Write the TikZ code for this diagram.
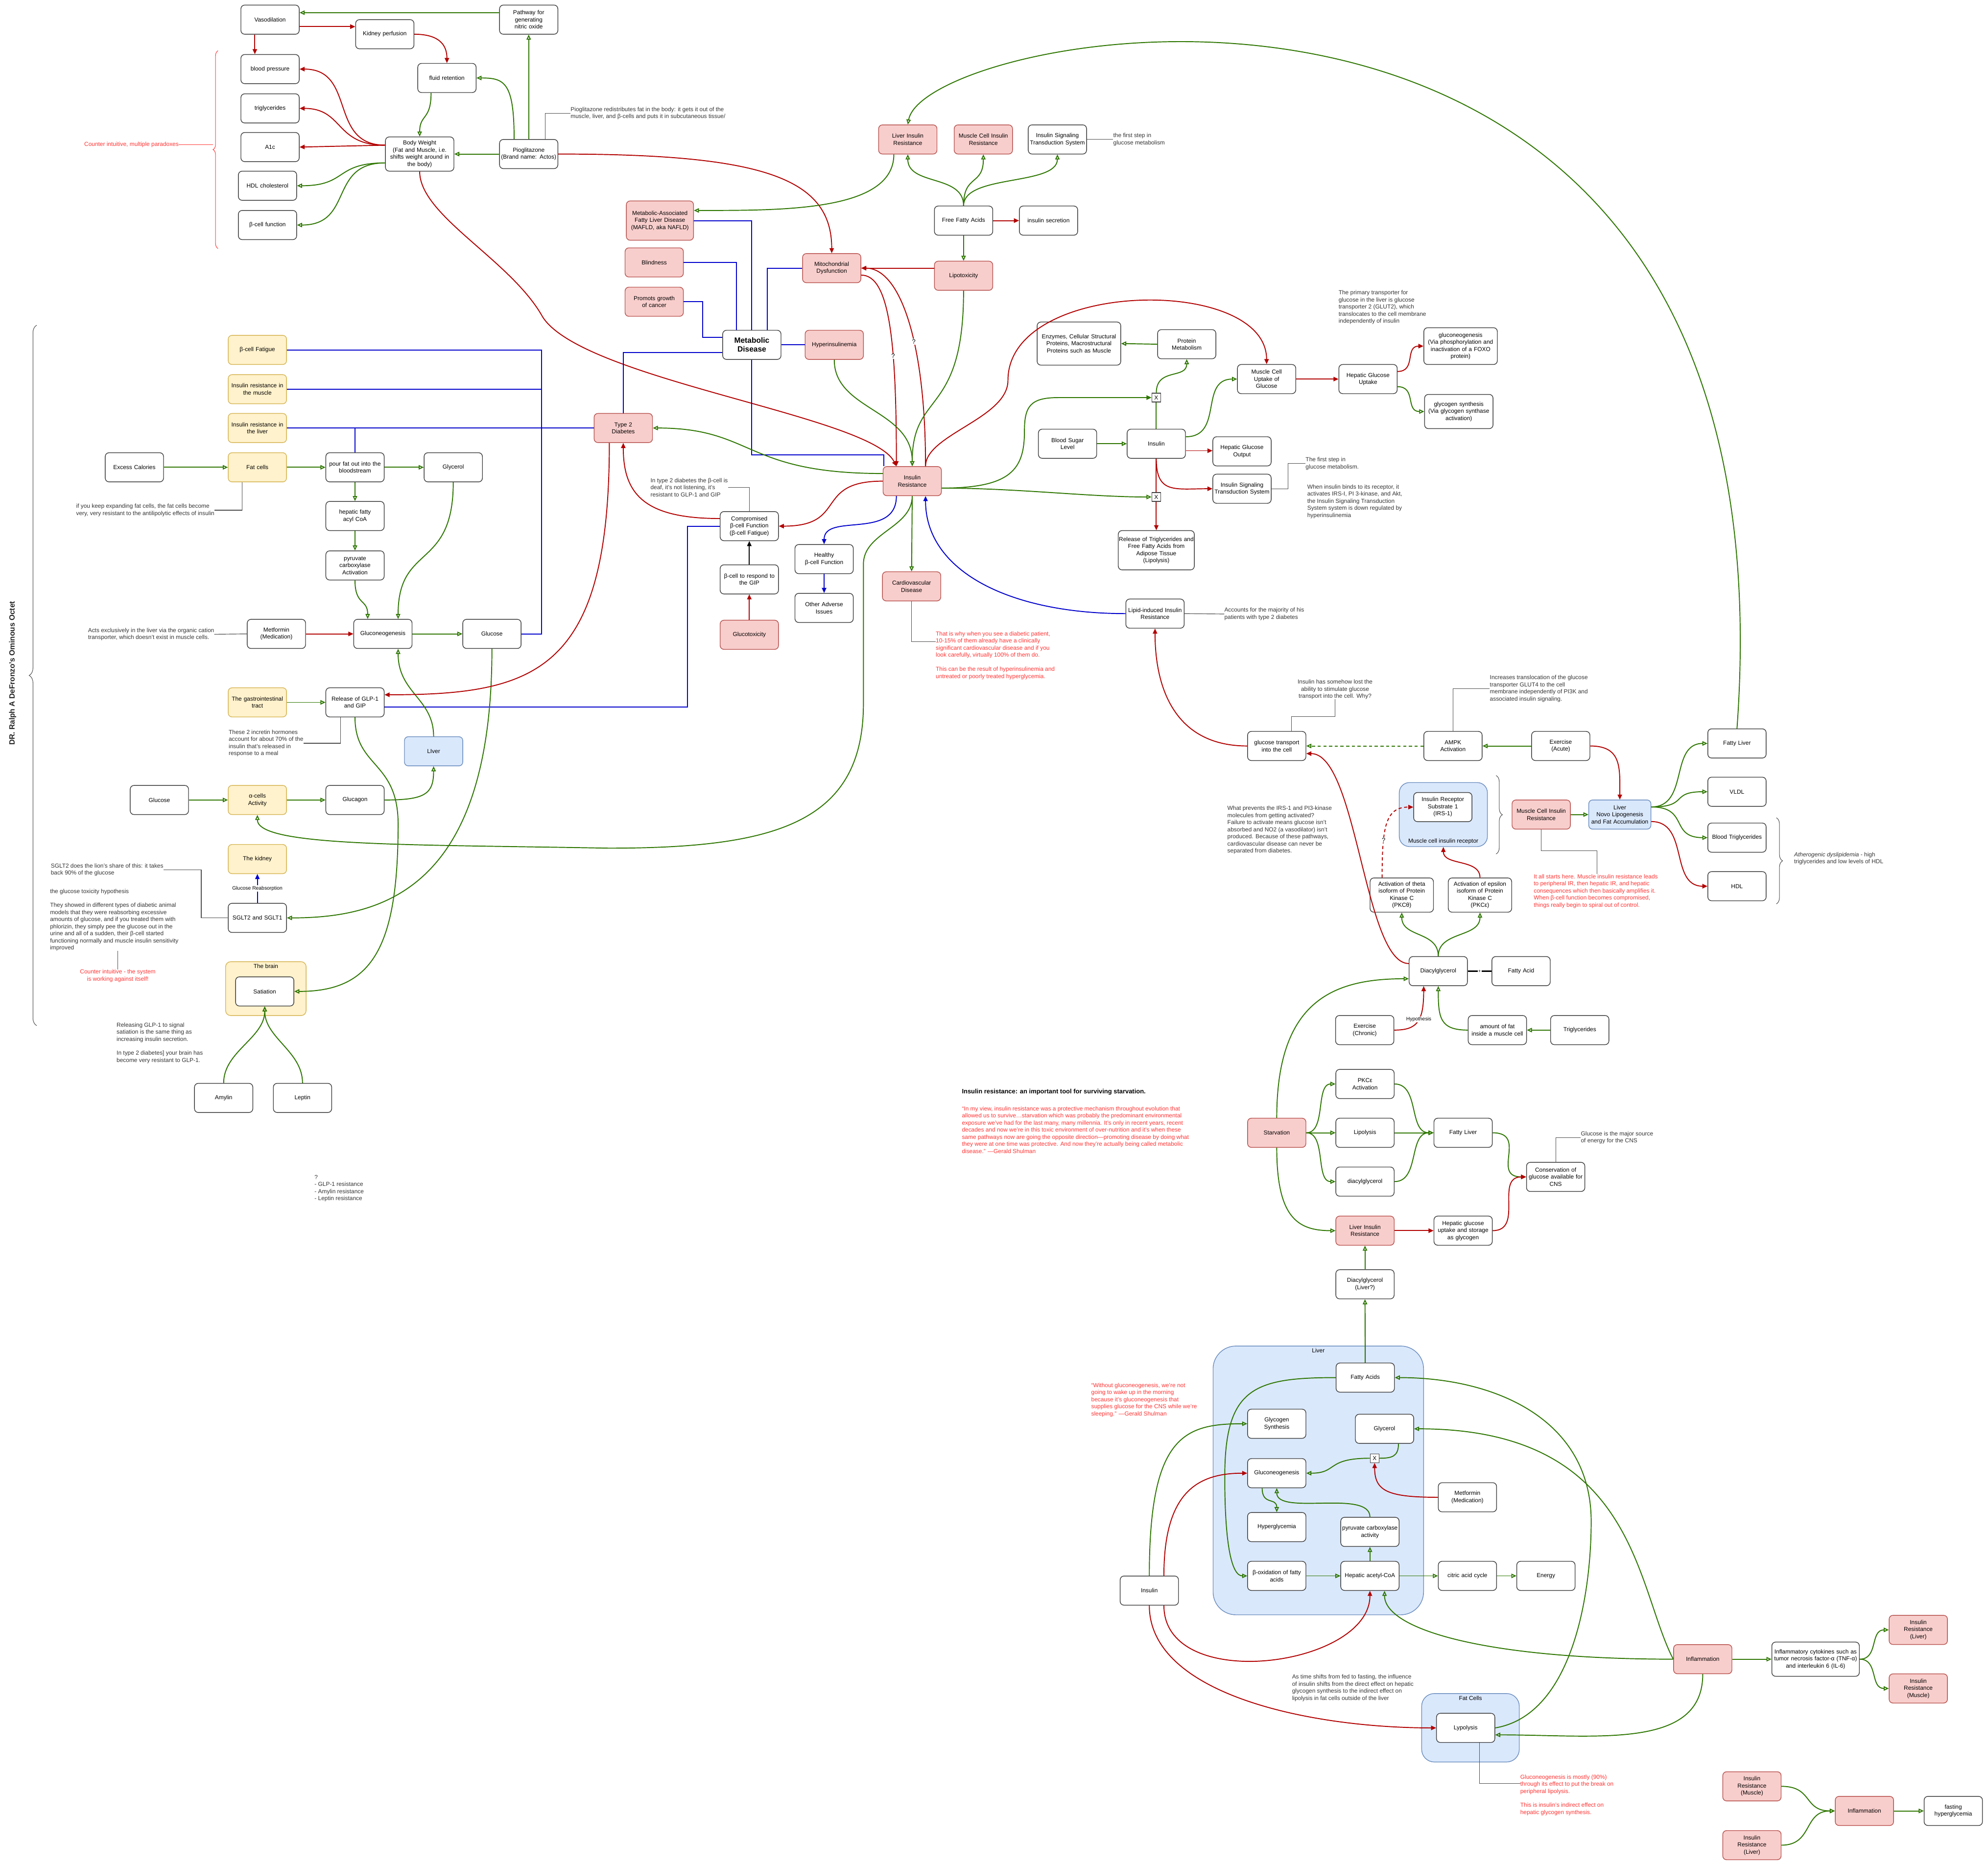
\documentclass[tikz,border=0pt]{standalone}
\usepackage{fontspec}
\setmainfont{Liberation Sans}
\usetikzlibrary{arrows.meta,decorations.pathreplacing}
\definecolor{pinkf}{HTML}{F8CECC}
\definecolor{pinkd}{HTML}{B85450}
\definecolor{yelf}{HTML}{FFF2CC}
\definecolor{yeld}{HTML}{D6B656}
\definecolor{bluf}{HTML}{DAE8FC}
\definecolor{blud}{HTML}{6C8EBF}
\definecolor{grn}{HTML}{2D7600}
\definecolor{redl}{HTML}{B20000}
\definecolor{blul}{HTML}{0000CC}
\definecolor{rtxt}{HTML}{FF3333}
\tikzset{
  box/.style={draw=black!75, line width=1.1pt, rounded corners=6pt, fill=white, align=center, minimum width=92pt, minimum height=46pt, text width=90pt, inner sep=1pt},
  pinkbox/.style={box, fill=pinkf, draw=pinkd},
  yelbox/.style={box, fill=yelf, draw=yeld},
  blubox/.style={box, fill=bluf, draw=blud},
  clus/.style={draw=blud, fill=bluf, line width=1.1pt, inner sep=0pt},
  xbox/.style={draw=black!75, line width=1pt, fill=white, minimum size=14pt, inner sep=0pt},
  note/.style={align=left, text=black!80, inner sep=0pt},
  rednote/.style={note, text=rtxt},
  lead/.style={draw=black!70, line width=0.9pt},
  gline/.style={draw=grn, line width=1.5pt, -{Triangle[open, length=8pt, width=7pt]}},
  gfill/.style={draw=grn, line width=1.5pt, -{Triangle[length=8pt, width=7pt]}},
  gplain/.style={draw=grn, line width=1.5pt},
  rline/.style={draw=redl, line width=1.5pt, -{Triangle[length=8pt, width=7pt]}},
  rplain/.style={draw=redl, line width=1.5pt},
  bline/.style={draw=blul, line width=1.5pt},
  barrow/.style={bline, -{Triangle[length=8pt, width=7pt]}},
  qmark/.style={fill=white, inner sep=1pt, font=\fontsize{10}{12}\selectfont},
  smalllab/.style={fill=white, inner sep=1pt, font=\fontsize{8}{9}\selectfont},
  bracedec/.style={decorate, decoration={brace, amplitude=#1}, line width=0.8pt}
}
\begin{document}
\begin{tikzpicture}[x=2pt, y=-2pt, font=\fontsize{9.2}{11.2}\selectfont]
\fill[white] (0,0) rectangle (1568,1471);
\useasboundingbox (0,0) rectangle (1568,1471);

\node[yelbox, rounded corners=8pt, minimum width=127pt, minimum height=85pt, text width=125pt] (brainc) at (209.7,779.8) {};
\node[anchor=north, inner sep=0pt] at ([yshift=-4pt]brainc.north) {The brain};
\node[clus, rounded corners=16pt, minimum width=139pt, minimum height=101pt] (mcrec) at (1138.4,642.5) {};
\node[anchor=south, inner sep=0pt] at ([yshift=4pt]mcrec.south) {Muscle cell insulin receptor};
\node[clus, rounded corners=36pt, minimum width=332pt, minimum height=424pt] (livc) at (1039.8,1167.7) {};
\node[anchor=north, inner sep=0pt] at ([yshift=-4pt]livc.north) {Liver};
\node[clus, rounded corners=20pt, minimum width=154pt, minimum height=108pt] (fatcl) at (1159.8,1362.8) {};
\node[anchor=north, inner sep=0pt] at ([yshift=-4pt]fatcl.north) {Fat Cells};

\node[box] (vaso) at (213,15.5) {Vasodilation};
\node[box] (kidp) at (303.5,27) {Kidney perfusion};
\node[box] (nox) at (417,15.5) {Pathway for\\generating\\nitric oxide};
\node[box] (bp) at (213,54.5) {blood pressure};
\node[box] (trig) at (213,85.5) {triglycerides};
\node[box] (aonec) at (213,116) {A1c};
\node[box] (hdlc) at (211,146.5) {HDL cholesterol};
\node[box] (bfun) at (211,177.5) {β-cell function};
\node[box] (fluid) at (352.5,61.5) {fluid retention};
\node[box, minimum width=108pt, text width=106pt, minimum height=54pt] (bw) at (331,121.5) {Body Weight\\(Fat and Muscle, i.e.\\shifts weight around in\\the body)};
\node[box] (pio) at (417,121.5) {Pioglitazone\\(Brand name: Actos)};
\node[note, anchor=west] (pionote) at (450,89.3) {Pioglitazone redistributes fat in the body: it gets it out of the\\muscle, liver, and β-cells and puts it in subcutaneous tissue/};
\node[rednote, anchor=east] (ctr) at (141,114) {Counter intuitive, multiple paradoxes};

\node[pinkbox] (lir) at (716,110) {Liver Insulin\\Resistance};
\node[pinkbox] (mcir) at (775.6,110) {Muscle Cell Insulin\\Resistance};
\node[box] (ists) at (834,110) {Insulin Signaling\\Transduction System};
\node[note, anchor=west] (istsnote) at (878,110) {the first step in\\glucose metabolism};
\node[box] (ffa) at (760,174) {Free Fatty Acids};
\node[box] (insec) at (827,174) {insulin secretion};
\node[pinkbox] (lipotox) at (760,217.5) {Lipotoxicity};
\node[pinkbox] (mito) at (656,211.5) {Mitochondrial\\Dysfunction};
\node[pinkbox, minimum width=106pt, text width=104pt, minimum height=62pt] (mafld) at (520.5,174) {Metabolic-Associated\\Fatty Liver Disease\\(MAFLD, aka NAFLD)};
\node[pinkbox] (blind) at (516,207) {Blindness};
\node[pinkbox] (cancer) at (516,238) {Promots growth\\of cancer};
\node[box, font=\fontsize{12}{14}\selectfont\bfseries] (md) at (593,272) {Metabolic\\Disease};
\node[pinkbox] (hyper) at (658,272) {Hyperinsulinemia};
\node[box, minimum width=132pt, text width=130pt, minimum height=68pt] (enz) at (851,271) {Enzymes, Cellular Structural\\Proteins, Macrostructural\\Proteins such as Muscle};
\node[box] (protm) at (936,271.5) {Protein\\Metabolism};

\node[yelbox] (bfat) at (203,276) {β-cell Fatigue};
\node[yelbox] (irmus) at (203,307) {Insulin resistance in\\the muscle};
\node[yelbox] (irliv) at (203,337.6) {Insulin resistance in\\the liver};
\node[yelbox] (fatc) at (203,368.6) {Fat cells};
\node[box] (xcal) at (106,368.6) {Excess Calories};
\node[box] (pour) at (280,368.6) {pour fat out into the\\bloodstream};
\node[box] (glyc) at (357.5,368.6) {Glycerol};
\node[box] (hfac) at (280,407) {hepatic fatty\\acyl CoA};
\node[box] (pyr) at (280,446) {pyruvate\\carboxylase\\Activation};
\node[box] (gng) at (302,500) {Gluconeogenesis};
\node[box] (glc) at (388,500) {Glucose};
\node[box] (met) at (218,500) {Metformin\\(Medication)};
\node[note, anchor=east] (metnote) at (169,500.3) {Acts exclusively in the liver via the organic cation\\transporter, which doesn't exist in muscle cells.};
\node[note, anchor=west] (fatnote) at (60,402.4) {if you keep expanding fat cells, the fat cells become\\very, very resistant to the antilipolytic effects of insulin};
\node[rotate=90, font=\fontsize{12}{14}\selectfont\bfseries, text=black!85] (octet) at (10,531) {DR. Ralph A DeFronzo's Ominous Octet};

\node[pinkbox] (t2d) at (491.6,337.6) {Type 2\\Diabetes};
\node[pinkbox] (ir) at (719.5,379.5) {Insulin\\Resistance};
\node[box] (comp) at (591,415) {Compromised\\β-cell Function\\(β-cell Fatigue)};
\node[note, anchor=north west] (compnote) at (513,377) {In type 2 diabetes the β-cell is\\deaf, it's not listening, it's\\resistant to GLP-1 and GIP};
\node[box] (gip) at (591,457) {β-cell to respond to\\the GIP};
\node[pinkbox] (gtox) at (591,500.7) {Glucotoxicity};
\node[box] (healthy) at (650,441) {Healthy\\β-cell Function};
\node[box] (adverse) at (650,479.5) {Other Adverse\\Issues};
\node[pinkbox] (cvd) at (719,462.5) {Cardiovascular\\Disease};
\node[rednote, anchor=north west] (cvdnote) at (738,498) {That is why when you see a diabetic patient,\\10-15\% of them already have a clinically\\significant cardiovascular disease and if you\\look carefully, virtually 100\% of them do.\\[11pt]This can be the result of hyperinsulinemia and\\untreated or poorly treated hyperglycemia.};
\node[box] (bsl) at (842,350) {Blood Sugar\\Level};
\node[box] (ins) at (912,350) {Insulin};
\node[xbox] (xa) at (912,313.6) {X};
\node[xbox] (xb) at (912,392) {X};
\node[box] (hgo) at (979.6,356) {Hepatic Glucose\\Output};
\node[box] (ists2) at (979.6,385.5) {Insulin Signaling\\Transduction System};
\node[box, minimum width=120pt, text width=118pt, minimum height=62pt] (relTG) at (912,434) {Release of Triglycerides and\\Free Fatty Acids from\\Adipose Tissue\\(Lipolysis)};
\node[box] (mcug) at (999,299) {Muscle Cell\\Uptake of\\Glucose};
\node[box] (hgu) at (1079,299) {Hepatic Glucose\\Uptake};
\node[box, minimum width=116pt, text width=114pt, minimum height=58pt] (gngfoxo) at (1152,273) {gluconeogenesis\\(Via phosphorylation and\\inactivation of a FOXO\\protein)};
\node[box, minimum width=108pt, text width=106pt, minimum height=54pt] (glysyn) at (1150.6,324.6) {glycogen synthesis\\(Via glycogen synthase\\activation)};
\node[note, anchor=north west] (glut2note) at (1055.7,229) {The primary transporter for\\glucose in the liver is glucose\\transporter 2 (GLUT2), which\\translocates to the cell membrane\\independently of insulin};
\node[note, anchor=west] (step2note) at (1029.7,365.7) {The first step in\\glucose metabolism.};
\node[note, anchor=north west] (whennote) at (1031,382) {When insulin binds to its receptor, it\\activates IRS-I, PI 3-kinase, and Akt,\\the Insulin Signaling Transduction\\System system is down regulated by\\hyperinsulinemia};
\node[box] (lipir) at (911,484) {Lipid-induced Insulin\\Resistance};
\node[note, anchor=west] (accnote) at (965.6,484.3) {Accounts for the majority of his\\patients with type 2 diabetes};

\node[yelbox] (git) at (203,554) {The gastrointestinal\\tract};
\node[box] (glp) at (280,554) {Release of GLP-1\\and GIP};
\node[note, anchor=north west] (incnote) at (180.3,575.6) {These 2 incretin hormones\\account for about 70\% of the\\insulin that's released in\\response to a meal};
\node[blubox] (liver) at (342,592.6) {LIver};
\node[box] (glc2) at (125.7,631) {Glucose};
\node[yelbox] (alpha) at (203,631) {α-cells\\Activity};
\node[box] (gcg) at (280,631) {Glucagon};
\node[yelbox] (kid) at (203,677.6) {The kidney};
\node[box] (sglt) at (203,724) {SGLT2 and SGLT1};
\node[note, anchor=north west] (sgltnote) at (40,681) {SGLT2 does the lion's share of this: it takes\\back 90\% of the glucose};
\node[note, anchor=north west] (toxnote) at (39.4,701) {the glucose toxicity hypothesis\\[11pt]They showed in different types of diabetic animal\\models that they were reabsorbing excessive\\amounts of glucose, and if you treated them with\\phlorizin, they simply pee the glucose out in the\\urine and all of a sudden, their β-cell started\\functioning normally and muscle insulin sensitivity\\improved};
\node[rednote, align=center] (counter) at (92.9,769.6) {Counter intuitive - the system\\is working against itself!};
\node[box] (sat) at (208.8,782) {Satiation};
\node[box] (amy) at (176.4,866) {Amylin};
\node[box] (lep) at (238.6,866) {Leptin};
\node[note, anchor=north west] (glpnote) at (91.9,806.5) {Releasing GLP-1 to signal\\satiation is the same thing as\\increasing insulin secretion.\\[11pt]In type 2 diabetes] your brain has\\become very resistant to GLP-1.};
\node[note, anchor=north west] (qnote) at (248,926.7) {?\\- GLP-1 resistance\\- Amylin resistance\\- Leptin resistance};

\node[box] (gtc) at (1007,588.4) {glucose transport\\into the cell};
\node[note, align=center] (gtcnote) at (1053,543.8) {Insulin has somehow lost the\\ability to stimulate glucose\\transport into the cell. Why?};
\node[box] (ampk) at (1146,588.4) {AMPK\\Activation};
\node[box] (exa) at (1231,588.4) {Exercise\\(Acute)};
\node[note, anchor=north west] (ampknote) at (1175,532.6) {Increases translocation of the glucose\\transporter GLUT4 to the cell\\membrane independently of PI3K and\\associated insulin signaling.};
\node[blubox, minimum width=96pt, text width=96pt] (dnl) at (1277.6,642.5) {Liver\\Novo Lipogenesis\\and Fat Accumulation};
\node[pinkbox] (mcir2) at (1215.6,642.5) {Muscle Cell Insulin\\Resistance};
\node[rednote, anchor=north west] (startnote) at (1209.6,689.5) {It all starts here. Muscle insulin resistance leads\\to peripheral IR, then hepatic IR, and hepatic\\consequences which then basically amplifies it.\\When β-cell function becomes compromised,\\things really begin to spiral out of control.};
\node[box] (irs) at (1138,636.6) {Insulin Receptor\\Substrate 1\\(IRS-1)};
\node[note, anchor=north west] (prevnote) at (968,635.7) {What prevents the IRS-1 and PI3-kinase\\molecules from getting activated?\\Failure to activate means glucose isn't\\absorbed and NO2 (a vasodilator) isn't\\produced. Because of these pathways,\\cardiovascular disease can never be\\separated from diabetes.};
\node[box, minimum width=100pt, text width=98pt, minimum height=54pt] (pkct) at (1105.6,706) {Activation of theta\\isoform of Protein\\Kinase C\\(PKCθ)};
\node[box, minimum width=100pt, text width=98pt, minimum height=54pt] (pkce) at (1167.3,706) {Activation of epsilon\\isoform of Protein\\Kinase C\\(PKCε)};
\node[box] (dag) at (1134.4,766) {Diacylglycerol};
\node[box] (fa) at (1199.7,766) {Fatty Acid};
\node[box] (exc) at (1076.4,812.5) {Exercise\\(Chronic)};
\node[box] (amf) at (1181,812.5) {amount of fat\\inside a muscle cell};
\node[box] (tg) at (1246,812.5) {Triglycerides};
\node[box] (fl) at (1370,586.4) {Fatty Liver};
\node[box] (vldl) at (1370,624.5) {VLDL};
\node[box] (btg) at (1370,660.7) {Blood Triglycerides};
\node[box] (hdl) at (1370,699) {HDL};
\node[note, anchor=west] (athnote) at (1415,677.2) {\textit{Atherogenic dyslipidemia} - high\\triglycerides and low levels of HDL};

\node[anchor=west, inner sep=0pt, font=\fontsize{10}{12}\selectfont\bfseries] (title) at (758.6,861.4) {Insulin resistance: an important tool for surviving starvation.};
\node[rednote, anchor=north west] (quote) at (758.6,872.5) {“In my view, insulin resistance was a protective mechanism throughout evolution that\\allowed us to survive…starvation which was probably the predominant environmental\\exposure we've had for the last many, many millennia. It's only in recent years, recent\\decades and now we're in this toxic environment of over-nutrition and it's when these\\same pathways now are going the opposite direction—promoting disease by doing what\\they were at one time was protective. And now they're actually being called metabolic\\disease.” —Gerald Shulman};
\node[pinkbox] (starv) at (1007,893.5) {Starvation};
\node[box] (pkca) at (1076.6,855) {PKCε\\Activation};
\node[box] (lipo) at (1076.6,893.5) {Lipolysis};
\node[box] (dag2) at (1076.6,932) {diacylglycerol};
\node[box] (fl2) at (1154,893.5) {Fatty Liver};
\node[box] (cons) at (1227,928.3) {Conservation of\\glucose available for\\CNS};
\node[note, anchor=west] (cnsnote) at (1246.8,897.4) {Glucose is the major source\\of energy for the CNS};
\node[pinkbox] (lir2) at (1076.6,970.7) {Liver Insulin\\Resistance};
\node[box] (hgus) at (1154,970.7) {Hepatic glucose\\uptake and storage\\as glycogen};
\node[box] (dagl) at (1076.6,1013) {Diacylglycerol\\(Liver?)};

\node[box] (fas) at (1076.8,1086.6) {Fatty Acids};
\node[box] (gsyn) at (1007,1123) {Glycogen\\Synthesis};
\node[box] (glyc2) at (1092,1127) {Glycerol};
\node[box] (gng2) at (1007,1162) {Gluconeogenesis};
\node[box] (hypg) at (1007,1204.5) {Hyperglycemia};
\node[box] (pyr2) at (1080.5,1208.3) {pyruvate carboxylase\\activity};
\node[box] (boxid) at (1007,1243) {β-oxidation of fatty\\acids};
\node[box] (acoa) at (1080.5,1243) {Hepatic acetyl-CoA};
\node[box] (tca) at (1157.4,1243) {citric acid cycle};
\node[box] (energy) at (1219.3,1243) {Energy};
\node[box] (met2) at (1157.4,1181) {Metformin\\(Medication)};
\node[xbox] (xc) at (1084.2,1150.2) {X};
\node[box] (ins2) at (906.5,1254.6) {Insulin};
\node[rednote, anchor=north west] (gngquote) at (860.6,1090.7) {“Without gluconeogenesis, we're not\\going to wake up in the morning\\because it's gluconeogenesis that\\supplies glucose for the CNS while we're\\sleeping.” —Gerald Shulman};
\node[note, anchor=north west] (fastnote) at (1019,1320.7) {As time shifts from fed to fasting, the influence\\of insulin shifts from the direct effect on hepatic\\glycogen synthesis to the indirect effect on\\lipolysis in fat cells outside of the liver};
\node[box] (lypo) at (1156,1362.9) {Lypolysis};
\node[rednote, anchor=north west] (gngnote) at (1199,1399.7) {Gluconeogenesis is mostly (90\%)\\through its effect to put the break on\\peripheral lipolysis.\\[11pt]This is insulin's indirect effect on\\hepatic glycogen synthesis.};
\node[pinkbox] (infl) at (1343,1308.7) {Inflammation};
\node[box, minimum width=138pt, text width=136pt, minimum height=54pt] (cyto) at (1432,1308.7) {Inflammatory cytokines such as\\tumor necrosis factor-α (TNF-α)\\and interleukin 6 (IL-6)};
\node[pinkbox] (irl) at (1513,1285.6) {Insulin\\Resistance\\(Liver)};
\node[pinkbox] (irm) at (1513,1331.8) {Insulin\\Resistance\\(Muscle)};
\node[pinkbox] (irm2) at (1381.8,1409) {Insulin\\Resistance\\(Muscle)};
\node[pinkbox] (irl2) at (1381.8,1455.4) {Insulin\\Resistance\\(Liver)};
\node[pinkbox] (infl2) at (1470.5,1428.4) {Inflammation};
\node[box] (fhg) at (1540.6,1428.4) {fasting\\hyperglycemia};

\draw[rtxt, bracedec=8pt] (172,196) -- (172,40);
\draw[rtxt, line width=0.8pt] (ctr.east) -- ++(27,0);
\draw[black!70, bracedec=12pt] (29,809) -- (29,256.5);
\draw[black!70, bracedec=10pt] (1180,611.7) -- (1180,673.6);
\draw[black!70, bracedec=10pt] (1401,645) -- (1401,713);

\draw[gline] ([yshift=11pt]nox.west) -- ([yshift=11pt]nox.west -| vaso.east);
\draw[rline] ([yshift=-11pt]vaso.east) -- ([yshift=-11pt]vaso.east -| kidp.west);
\draw[rline] ([xshift=-24pt]vaso.south) -- ([xshift=-24pt]vaso.south |- bp.north);
\draw[rline] (kidp.east) .. controls +(20,0) and +(0,-14) .. (fluid.north);
\draw[gline] ([xshift=-25pt]fluid.south) .. controls +(0,22) and +(0,-18) .. (bw.north);
\draw[gline] ([xshift=-23pt]pio.north) .. controls +(0,-45) and +(22,0) .. (fluid.east);
\draw[gline] (pio.north) -- (nox.south);
\draw[gline] (pio.west) -- (bw.east);
\draw[rline] ([yshift=14pt]bw.west) .. controls +(-45,0) and +(45,0) .. (bp.east);
\draw[rline] ([yshift=14pt]bw.west) .. controls +(-40,0) and +(35,0) .. (trig.east);
\draw[rline] ([yshift=14pt]bw.west) -- (aonec.east);
\draw[gline] ([yshift=-14pt]bw.west) .. controls +(-40,0) and +(40,0) .. (hdlc.east);
\draw[gline] ([yshift=-14pt]bw.west) .. controls +(-45,0) and +(45,0) .. (bfun.east);
\draw[lead] ([xshift=26pt]pio.north) |- (pionote.west);
\draw[rline] (bw.south) .. controls +(0,35) and +(-25,-45) .. (428,250) .. controls +(32,50) and +(-20,-40) .. ([xshift=-25pt]ir.north);
\draw[rline] (pio.east) .. controls +(160,0) and +(0,-60) .. (mito.north);

\draw[gline] (ffa.north) .. controls +(0,-25) and +(0,25) .. (lir.south);
\draw[gline] (ffa.north) .. controls +(0,-25) and +(0,25) .. (mcir.south);
\draw[gline] (ffa.north) .. controls +(0,-25) and +(0,25) .. (ists.south);
\draw[rline] (ffa.east) -- (insec.west);
\draw[gline] (ffa.south) -- (lipotox.north);
\draw[rline] ([yshift=12pt]lipotox.west) -- ([yshift=12pt]lipotox.west -| mito.east);
\draw[gline] ([xshift=-22pt]lir.south) .. controls +(0,45) and +(70,0) .. ([yshift=16pt]mafld.east);
\draw[gline] (fl.north) .. controls +(50,-685) and +(14,-78.5) .. (lir.north);
\draw[lead] (ists.east) -- (istsnote.west);

\draw[bline] (mafld.east) -| (md.north);
\draw[bline] (blind.east) -| ([xshift=-24pt]md.north);
\draw[bline] (mito.west) -| ([xshift=24pt]md.north);
\draw[bline] (cancer.east) -- ++(15,0) |- ([yshift=12pt]md.west);
\draw[bline] (md.east) -- (hyper.west);
\draw[bline] ([yshift=-12pt]md.west) -| (t2d.north);
\draw[bline] (md.south) -- ++(0,75) -| ([xshift=2pt]ir.north west);

\draw[bline] (bfat.east) -- ++(201,0) |- (glc.east);
\draw[bline] (irmus.east) -- ++(201,0);
\draw[bline] (irliv.east) -- (t2d.west);
\draw[bline] (pour.north) -- (pour.north |- irliv.east);
\draw[bline] ([yshift=-7pt]glp.east) -- ++(238.8,0) |- (comp.west);

\draw[gline] (xcal.east) -- (fatc.west);
\draw[gline] (fatc.east) -- (pour.west);
\draw[gline] (pour.east) -- (glyc.west);
\draw[gline] (pour.south) -- (hfac.north);
\draw[gline] (hfac.south) -- (pyr.north);
\draw[gline] (pyr.south) .. controls +(0,20) and +(0,-16) .. ([xshift=-24pt]gng.north);
\draw[gline] (glyc.south) .. controls +(0,70) and +(0,-60) .. ([xshift=24pt]gng.north);
\draw[rline] (met.east) -- (gng.west);
\draw[gline] (gng.east) -- (glc.west);
\draw[lead] (metnote.east) -- (met.west);
\draw[lead] ([xshift=-24pt]fatc.south) |- (fatnote.east);
\draw[gline] (liver.north) .. controls +(0,-30) and +(0,35) .. ([xshift=24pt]gng.south);
\draw[gline] (glc.south) .. controls +(0,190) and +(75,0) .. (sglt.east);
\draw[gline] (glp.south) .. controls +(0,40) and +(0,-50) .. (314,650) .. controls +(0,100) and +(60,0) .. (sat.east);
\draw[gline] (git.east) -- (glp.west);
\draw[lead] ([xshift=-23pt]glp.south) |- (incnote.east);
\draw[gline] (glc2.east) -- (alpha.west);
\draw[gline] (alpha.east) -- (gcg.west);
\draw[gline] (gcg.east) .. controls +(32,0) and +(0,22) .. (liver.south);
\draw[gline] (ir.south) .. controls +(0,25) and +(0,-25) .. (681,445) -- (681,555) .. controls +(0,95) and +(130,0) .. (480,669) .. controls +(-160,-3) and +(0,25) .. (alpha.south);
\draw[rline] ([xshift=-22pt]t2d.south) .. controls +(0,180) and +(120,0) .. ([yshift=12pt]glp.east);
\draw[barrow] (sglt.north) -- node[smalllab]{Glucose Reabsorption} (kid.south);
\draw[lead] (sgltnote.east) -| ([xshift=-42pt]sglt.west) -- (sglt.west);
\draw[lead] (counter.north) -- (counter.north |- toxnote.south);
\draw[gline] (amy.north) .. controls +(0,-25) and +(0,25) .. (sat.south);
\draw[gline] (lep.north) .. controls +(0,-25) and +(0,25) .. (sat.south);

\draw[gline] ([yshift=12pt]ir.west) .. controls +(-110,0) and +(80,0) .. (t2d.east);
\draw[rline] (ir.west) .. controls +(-55,0) and +(55,0) .. (comp.east);
\draw[rline] ([yshift=12pt]comp.west) .. controls +(-60,0) and +(0,40) .. (t2d.south);
\draw[lead] (compnote.east) -| (comp.north);
\draw[-{Triangle[length=8pt, width=7pt]}, line width=1.5pt] (gip.north) -- (comp.south);
\draw[rline] (gtox.north) -- (gip.south);
\draw[barrow] ([xshift=-25pt]ir.south) .. controls +(0,35) and +(0,-25) .. (healthy.north);
\draw[barrow] (healthy.south) -- (adverse.north);
\draw[gline] (ir.south) -- (cvd.north);
\draw[lead] (cvd.south) |- ([yshift=-16pt]cvdnote.north west);

\draw[gfill] ([yshift=-11pt]ir.east) .. controls +(55,0) and +(0,30) .. (808,340) .. controls +(0,-20) and +(-22,0) .. (835,313.6) -- (xa.west);
\draw[gline] ([yshift=-11pt]ir.east) .. controls +(60,0) and +(-50,0) .. (xb.west);
\draw[gplain] (ins.north) -- (xa.south);
\draw[gline] (xa.north) .. controls +(0,-20) and +(0,16) .. (protm.south);
\draw[gline] (protm.west) -- (enz.east);
\draw[gline] (bsl.east) -- (ins.west);
\draw[gline] ([yshift=11pt]ins.east) .. controls +(30,0) and +(-30,0) .. (mcug.west);
\draw[rline] ([yshift=-11pt]ins.east) -- ([yshift=-11pt]ins.east -| hgo.west);
\draw[rline] (ins.south) .. controls +(0,28) and +(-30,0) .. (ists2.west);
\draw[rplain] (ins.south) -- (xb.north);
\draw[rline] (xb.south) -- (relTG.north);
\draw[rline] (mcug.east) -- (hgu.west);
\draw[rline] ([yshift=12pt]hgu.east) .. controls +(15,0) and +(-15,0) .. (gngfoxo.west);
\draw[gline] ([yshift=-12pt]hgu.east) .. controls +(15,0) and +(-15,0) .. (glysyn.west);
\draw[rline] ([xshift=21pt]ir.north) .. controls +(0,-25) and +(0,30) .. (795,300) .. controls +(0,-80) and +(0,-70) .. (mcug.north);
\draw[rline] ([xshift=21pt]ir.north) .. controls +(0,-100) and +(30,0) .. node[pos=0.4, qmark]{?} (mito.east);
\draw[rline] ([yshift=-11pt]mito.east) .. controls +(22,0) and +(0,-100) .. node[pos=0.65, qmark]{?} ([xshift=-25pt]ir.north);
\draw[gline] (hyper.south) .. controls +(0,40) and +(0,-45) .. (ir.north);
\draw[gline] (lipotox.south) .. controls +(0,100) and +(0,-60) .. (ir.north);
\draw[barrow] (lipir.west) .. controls +(-90,0) and +(0,60) .. ([xshift=21pt]ir.south);
\draw[rline] (gtc.west) .. controls +(-55,0) and +(0,50) .. (lipir.south);
\draw[lead] (lipir.east) -- (accnote.west);
\draw[lead] (ists2.east) -- ++(13,0) |- (step2note.west);

\draw[rline] ([yshift=12pt]dag.west) .. controls +(-35,0) and +(40,0) .. ([yshift=-12pt]gtc.east);
\draw[gline, dashed, dash pattern=on 5pt off 4pt] (ampk.west) -- (gtc.east);
\draw[gline] (exa.west) -- (ampk.east);
\draw[rline] (exa.east) .. controls +(25,0) and +(0,-25) .. (dnl.north);
\draw[gline] (mcir2.east) -- (dnl.west);
\draw[gline] ([yshift=12pt]dnl.east) .. controls +(30,0) and +(-30,0) .. (fl.west);
\draw[gline] ([yshift=12pt]dnl.east) .. controls +(30,0) and +(-30,0) .. (vldl.west);
\draw[gline] ([yshift=12pt]dnl.east) .. controls +(30,0) and +(-30,0) .. (btg.west);
\draw[rline] ([yshift=-11pt]dnl.east) .. controls +(30,0) and +(-30,0) .. (hdl.west);
\draw[rline, dashed, dash pattern=on 5pt off 4pt] ([xshift=-31pt]pkct.north) .. controls +(0,-40) and +(-22,0) .. node[pos=0.3, qmark]{?} (irs.west);
\draw[rline] (pkce.north) .. controls +(0,-15) and +(0,15) .. (mcrec.south);
\draw[gline] (dag.north) .. controls +(0,-20) and +(0,20) .. (pkct.south);
\draw[gline] (dag.north) .. controls +(0,-20) and +(0,20) .. (pkce.south);
\draw[line width=2pt] (dag.east) -- node[fill=white, inner sep=1pt, font=\fontsize{7}{8}\selectfont]{+} (fa.west);
\draw[rline] (exc.east) .. controls +(18,0) and +(0,28) .. node[pos=0.55, smalllab]{Hypothesis} ([xshift=-23pt]dag.south);
\draw[gline] (amf.west) .. controls +(-22,0) and +(0,25) .. (dag.south);
\draw[gline] (tg.west) -- (amf.east);
\draw[gline] (starv.north) .. controls +(0,-92) and +(-60,0) .. ([yshift=-12pt]dag.west);
\draw[lead] ([xshift=23pt]gtc.north) -- ++(0,-11.5) -| (gtcnote.south);
\draw[lead] (ampk.north) |- (ampknote.west);
\draw[lead] (mcir2.south) -- ++(0,16.8) -| ([xshift=100pt]startnote.north west);

\draw[gline] (starv.east) .. controls +(16,0) and +(-16,0) .. (pkca.west);
\draw[gline] (starv.east) -- (lipo.west);
\draw[gline] (starv.east) .. controls +(16,0) and +(-16,0) .. (dag2.west);
\draw[gline] (pkca.east) .. controls +(20,0) and +(-20,0) .. (fl2.west);
\draw[gline] (lipo.east) -- (fl2.west);
\draw[gline] (dag2.east) .. controls +(20,0) and +(-20,0) .. (fl2.west);
\draw[gline] (starv.south) .. controls +(0,55) and +(-30,0) .. (lir2.west);
\draw[rline] (lir2.east) -- (hgus.west);
\draw[gline] (fl2.east) .. controls +(28,0) and +(-28,0) .. (cons.west);
\draw[rline] (hgus.east) .. controls +(25,0) and +(-25,0) .. (cons.west);
\draw[gline] (dagl.north) -- (lir2.south);
\draw[gline] (fas.north) -- (dagl.south);
\draw[lead] (cons.north) |- (cnsnote.west);

\draw[gline] (fas.west) .. controls +(-65,0) and +(0,-70) .. (966,1165) .. controls +(0,55) and +(-12,0) .. (boxid.west);
\draw[gplain] ([xshift=22pt]glyc2.south) .. controls +(0,10) and +(10,0) .. (xc.east);
\draw[gline] (xc.west) .. controls +(-35,0) and +(25,0) .. (gng2.east);
\draw[rline] (met2.west) .. controls +(-40,0) and +(0,22) .. (xc.south);
\draw[gline] ([xshift=-23pt]gng2.south) .. controls +(0,14) and +(0,-12) .. (hypg.north);
\draw[gline] (pyr2.north) .. controls +(0,-22) and +(0,22) .. (gng2.south);
\draw[gline] (acoa.north) -- (pyr2.south);
\draw[gline] (boxid.east) -- (acoa.west);
\draw[gline] (acoa.east) -- (tca.west);
\draw[gline] (tca.east) -- (energy.west);
\draw[gline] (ins2.north) .. controls +(0,-110) and +(-50,0) .. (gsyn.west);
\draw[rline] ([xshift=23pt]ins2.north) .. controls +(0,-65) and +(-40,0) .. (gng2.west);
\draw[rline] ([xshift=23pt]ins2.south) .. controls +(0,70) and +(0,60) .. (acoa.south);
\draw[rline] (ins2.south) .. controls +(0,70) and +(-100,0) .. (lypo.west);
\draw[gline] (infl.west) .. controls +(-150,0) and +(0,30) .. ([xshift=23pt]acoa.south);
\draw[gline] (infl.west) .. controls +(-30,-58) and +(175,0) .. (glyc2.east);
\draw[gline] (lypo.east) .. controls +(60,-10) and +(0,60) .. (1255,1200) .. controls +(0,-80) and +(80,0) .. (fas.east);
\draw[gline] (infl.south) .. controls +(0,60) and +(80,0) .. ([yshift=-11pt]lypo.east);
\draw[gline] (infl.east) -- (cyto.west);
\draw[gline] (cyto.east) .. controls +(15,0) and +(-15,0) .. (irl.west);
\draw[gline] (cyto.east) .. controls +(15,0) and +(-15,0) .. (irm.west);
\draw[gline] (irm2.east) .. controls +(25,0) and +(-25,0) .. (infl2.west);
\draw[gline] (irl2.east) .. controls +(25,0) and +(-25,0) .. (infl2.west);
\draw[gline] (infl2.east) -- (fhg.west);
\draw[lead] ([xshift=22pt]lypo.south) |- ([yshift=-14pt]gngnote.north west);
\end{tikzpicture}
\end{document}
